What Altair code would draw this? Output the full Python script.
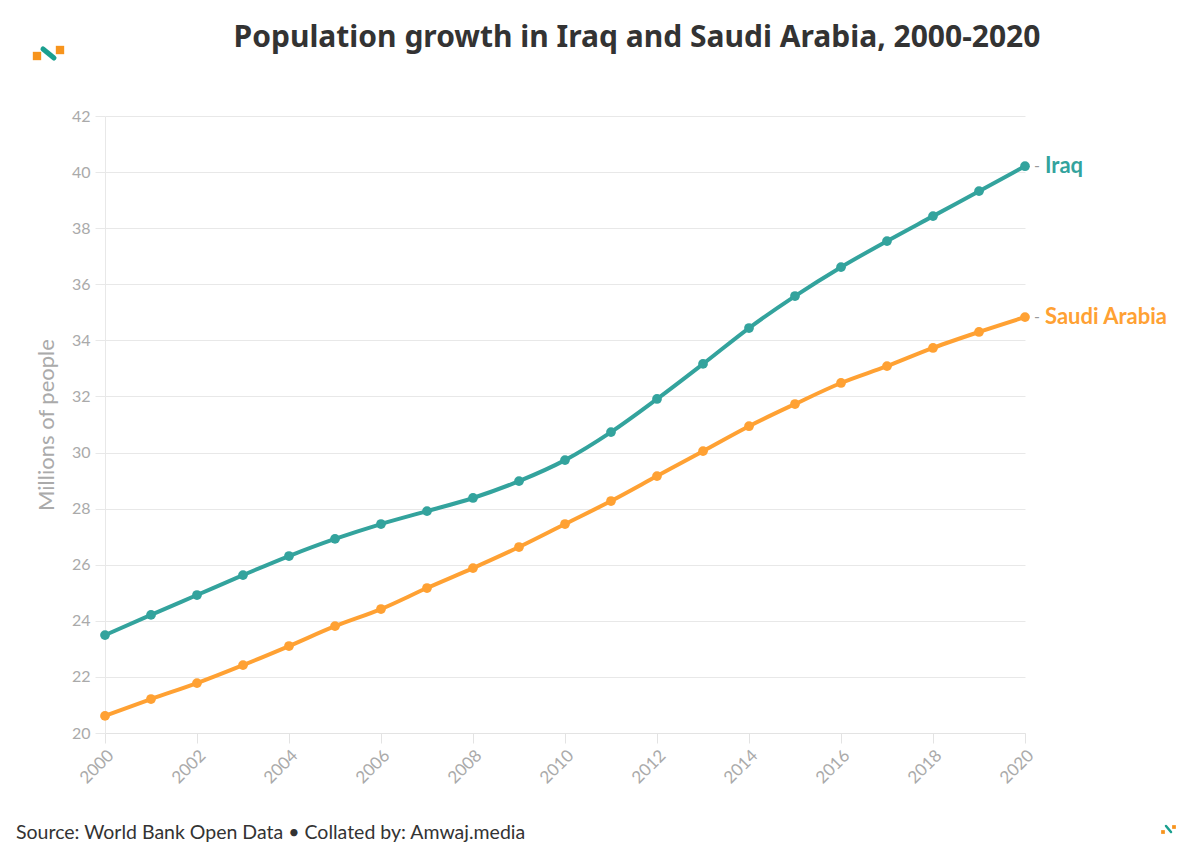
import altair as alt
import pandas as pd

years = list(range(2000, 2021))
iraq = [23.49, 24.21, 24.92, 25.63, 26.31, 26.92, 27.45, 27.91, 28.38, 28.98, 29.73,
        30.73, 31.91, 33.16, 34.44, 35.58, 36.61, 37.54, 38.43, 39.32, 40.21]
saudi = [20.61, 21.21, 21.78, 22.42, 23.10, 23.81, 24.42, 25.17, 25.88, 26.63, 27.45,
         28.27, 29.16, 30.05, 30.94, 31.73, 32.48, 33.08, 33.73, 34.30, 34.83]
countries = ["Iraq", "Saudi Arabia"]
colors = ["#33a39d", "#ffa133"]
x_ticks = list(range(2000, 2021, 2))
y_ticks = list(range(20, 43, 2))
title_text = "Population growth in Iraq and Saudi Arabia, 2000-2020"
footer_text = "Source: World Bank Open Data \u2022 Collated by: Amwaj.media"

FONT = "Lato"
TITLE_FONT = "Noto Sans"

df = pd.DataFrame({
    "year": years * 2,
    "value": iraq + saudi,
    "country": ["Iraq"] * len(years) + ["Saudi Arabia"] * len(years),
})

color = alt.Color("country:N", scale=alt.Scale(domain=countries, range=colors), legend=None)
x = alt.X("year:Q", scale=alt.Scale(domain=[2000, 2020], nice=False),
          axis=alt.Axis(values=x_ticks, format="d", labelAngle=-45, grid=False,
                        domainColor="#e3e3e3", tickColor="#e3e3e3", tickSize=10,
                        labelColor="#aaaaaa", labelFontSize=17, labelPadding=4,
                        labelFont=FONT, title=None))
y = alt.Y("value:Q", scale=alt.Scale(domain=[20, 42], nice=False, zero=False),
          axis=alt.Axis(values=y_ticks, grid=True, gridColor="#e8e8e8",
                        domainColor="#e8e8e8", tickColor="#e8e8e8", tickSize=10,
                        labelColor="#aaaaaa", labelFontSize=16, labelPadding=5,
                        labelFont=FONT, title="Millions of people",
                        titleColor="#aaaaaa", titleFontSize=22, titleFontWeight="normal",
                        titleFont=FONT, titlePadding=13))

base = alt.Chart(df)
lines = base.mark_line(strokeWidth=4, interpolate="monotone").encode(x=x, y=y, color=color)
points = base.mark_circle(size=95, opacity=1).encode(x=x, y=y, color=color)
last = base.transform_filter(alt.datum.year == 2020)
dash = last.mark_text(text="-", dx=12, align="center", fontSize=16, color="#999999", font=FONT).encode(
    x=x, y=y)
labels = last.mark_text(align="left", dx=20, fontSize=22, fontWeight="bold", font=FONT).encode(
    x=x, y=y, text="country:N", color=color)

one = pd.DataFrame({"a": [0]})
title = alt.Chart(one).mark_text(
    text=title_text, align="center", baseline="middle", fontSize=30, fontWeight="bold",
    color="#333333", font=TITLE_FONT
).encode(x=alt.value(532), y=alt.value(-78))
footer = alt.Chart(one).mark_text(
    text=footer_text, align="left", baseline="middle", fontSize=19.5, color="#333333", font=FONT
).encode(x=alt.value(-89), y=alt.value(717))

logo_sq = alt.Chart(pd.DataFrame({"px": [-68, -45], "py": [-60, -66]})).mark_square(
    size=70, color="#f7941d", opacity=1).encode(x=alt.X("px:Q", scale=None), y=alt.Y("py:Q", scale=None))
logo_line = alt.Chart(one).mark_rule(color="#1a9f8f", strokeWidth=5, strokeCap="round").encode(
    x=alt.value(-62), x2=alt.value(-51), y=alt.value(-67), y2=alt.value(-58))
logo2_sq = alt.Chart(pd.DataFrame({"px": [1058, 1069], "py": [716, 711]})).mark_square(
    size=14, color="#f7941d", opacity=1).encode(x=alt.X("px:Q", scale=None), y=alt.Y("py:Q", scale=None))
logo2_line = alt.Chart(one).mark_rule(color="#1a9f8f", strokeWidth=2.5, strokeCap="round").encode(
    x=alt.value(1061), x2=alt.value(1066), y=alt.value(710), y2=alt.value(716))

chart = alt.layer(lines, points, dash, labels, title, footer,
                  logo_sq, logo_line, logo2_sq, logo2_line).properties(
    width=920, height=617,
    background="white",
    autosize=alt.AutoSizeParams(type="none"),
    padding={"left": 97, "top": 108, "right": 167, "bottom": 127},
).configure_view(strokeWidth=0, stroke="transparent")

chart.save("out.html", embed_options={"renderer": "svg", "actions": False})
